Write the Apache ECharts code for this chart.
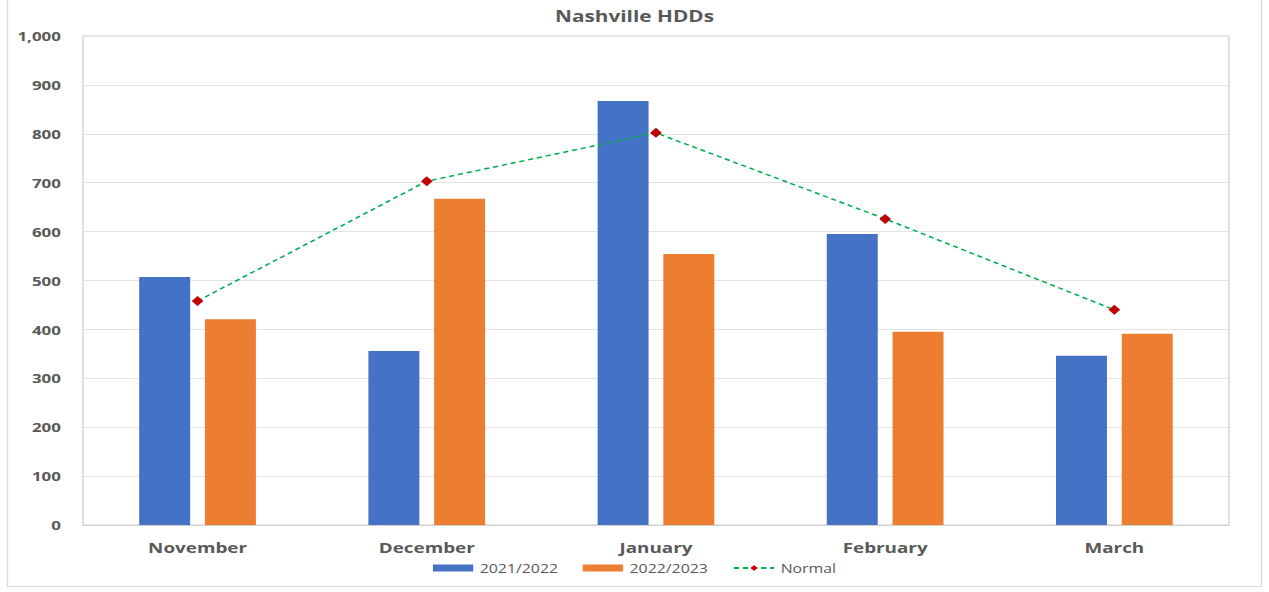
<!DOCTYPE html>
<html>
<head>
<meta charset="utf-8">
<script src="https://cdn.jsdelivr.net/npm/echarts@6/dist/echarts.min.js"></script>
<style>
  html, body { margin: 0; padding: 0; background: #ffffff; overflow: hidden; }
  #wrap { width: 1269px; height: 592px; overflow: hidden; }
  #chart { width: 976px; height: 592px; transform-origin: 0 0; }
</style>
</head>
<body>
<div id="wrap"><div id="chart"></div></div>
<script>
// Heating degree days by month, Nashville
const months = ['November', 'December', 'January', 'February', 'March'];
const season2122 = [507, 356, 867, 595, 346];
const season2223 = [421, 667, 554, 395, 391];
const normalHDD = [458, 703, 802, 626, 440];
const yTicks = [0, 100, 200, 300, 400, 500, 600, 700, 800, 900, 1000];

// The chart is laid out narrow and stretched sideways to its full width.
const STRETCH = 1269 / 976;
const el = document.getElementById('chart');
el.style.transform = 'scaleX(' + STRETCH + ')';

const textGray = '#595959';
const fontFam = '"Open Sans", sans-serif';

const chart = echarts.init(el, null, { renderer: 'svg' });

chart.setOption({
  animation: false,
  backgroundColor: '#ffffff',
  title: {
    text: 'Nashville HDDs',
    left: 'center',
    top: 3,
    textStyle: { color: textGray, fontSize: 16, fontWeight: 'bold', fontFamily: fontFam }
  },
  graphic: [{
    type: 'rect',
    shape: { x: 5.8, y: -2, width: 964.5, height: 588.5 },
    style: { fill: 'none', stroke: '#d9d9d9', lineWidth: 1 },
    silent: true
  }],
  legend: {
    bottom: 13,
    left: 'center',
    itemGap: 19,
    itemWidth: 31,
    itemHeight: 7,
    textStyle: { color: textGray, fontSize: 12.2, fontFamily: fontFam },
    data: [
      { name: '2021/2022', icon: 'rect' },
      { name: '2022/2023', icon: 'rect' },
      { name: 'Normal' }
    ]
  },
  grid: {
    left: 63.8,
    right: 30.8,
    top: 36,
    bottom: 67,
    show: true,
    borderColor: '#d0d0d0',
    borderWidth: 1,
    containLabel: false
  },
  xAxis: {
    type: 'category',
    data: months,
    axisLine: { show: true, lineStyle: { color: '#d0d0d0' } },
    axisTick: { show: false },
    axisLabel: { color: textGray, fontSize: 14.5, fontWeight: 'bold', fontFamily: fontFam, margin: 15 }
  },
  yAxis: {
    type: 'value',
    min: yTicks[0],
    max: yTicks[yTicks.length - 1],
    interval: 100,
    axisLine: { show: false },
    axisTick: { show: false },
    splitLine: { lineStyle: { color: '#e3e3e3', width: 1 } },
    axisLabel: {
      color: textGray, fontSize: 13, fontWeight: 'bold', fontFamily: fontFam, margin: 17,
      formatter: v => v.toLocaleString('en-US')
    }
  },
  series: [
    {
      name: '2021/2022',
      type: 'bar',
      data: season2122,
      barWidth: 39.2,
      barGap: '29%',
      itemStyle: { color: '#4472C4' }
    },
    {
      name: '2022/2023',
      type: 'bar',
      data: season2223,
      barWidth: 39.2,
      itemStyle: { color: '#ED7D31' }
    },
    {
      name: 'Normal',
      type: 'line',
      data: normalHDD,
      symbol: 'diamond',
      symbolSize: [9, 10],
      itemStyle: { color: '#C00000' },
      lineStyle: { color: '#00B050', width: 1.5, type: [4, 3] },
      z: 5
    }
  ]
});
</script>
</body>
</html>
